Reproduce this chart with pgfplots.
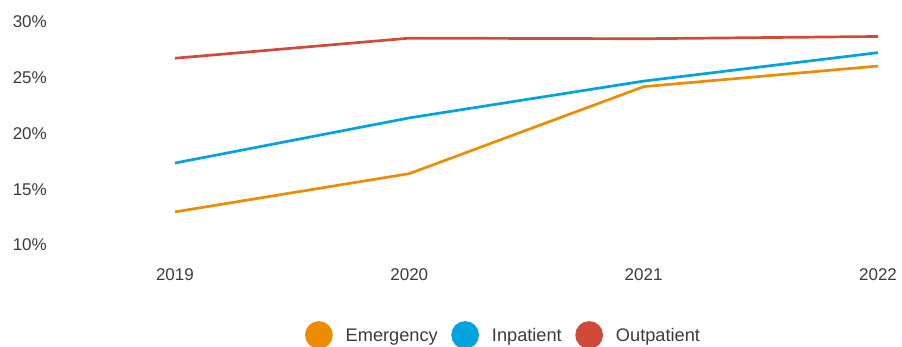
\documentclass[border=0pt]{standalone}
\usepackage{fontspec}
\setmainfont{Liberation Sans}
\usepackage{pgfplots}
\pgfplotsset{compat=1.18}

\definecolor{emerg}{HTML}{EE8C00}
\definecolor{inpat}{HTML}{00A3E0}
\definecolor{outpat}{HTML}{D04A3A}
\definecolor{txt}{HTML}{3C3C3C}

\newcommand{\lbl}{\fontsize{17}{20}\selectfont}
\newcommand{\leg}{\fontsize{18.2}{21}\selectfont}

\begin{document}
\begin{tikzpicture}
\path[use as bounding box] (-50pt,-102pt) rectangle (852pt,245pt);
\begin{axis}[
  scale only axis,
  width=828pt, height=223pt,
  xmin=2018.467, xmax=2022,
  ymin=10, ymax=30,
  clip=false,
  axis line style={draw=none},
  major tick length=0pt,
  xtick={2019,2020,2021,2022},
  xticklabels={2019,2020,2021,2022},
  ytick={10,15,20,25,30},
  yticklabel={\pgfmathprintnumber{\tick}\%},
  /pgf/number format/assume math mode=true,
  every tick label/.append style={font=\lbl, text=txt},
  xticklabel style={anchor=center, yshift=-30pt},
  yticklabel style={anchor=east, inner sep=0pt, xshift=-3pt},
  legend columns=3,
  legend style={
    draw=none, fill=none,
    at={(rel axis cs:0.5465,-0.4036)}, anchor=center,
    font=\leg, text=txt,
    nodes={inner sep=0pt},
    /tikz/every odd column/.append style={column sep=13pt},
    /tikz/every even column/.append style={column sep=13.5pt},
  },
  legend image code/.code={\fill[#1] (12.5pt,1pt) circle (12.5pt);},
  every axis plot/.append style={line width=2.7pt},
]
\addplot[color=emerg] coordinates {(2019,12.97) (2020,16.4) (2021,24.2) (2022,26.05)};
\addlegendentry{Emergency}
\addplot[color=inpat] coordinates {(2019,17.35) (2020,21.4) (2021,24.7) (2022,27.25)};
\addlegendentry{Inpatient}
\addplot[color=outpat] coordinates {(2019,26.75) (2020,28.55) (2021,28.5) (2022,28.7)};
\addlegendentry{Outpatient}
\end{axis}
\end{tikzpicture}
\end{document}
